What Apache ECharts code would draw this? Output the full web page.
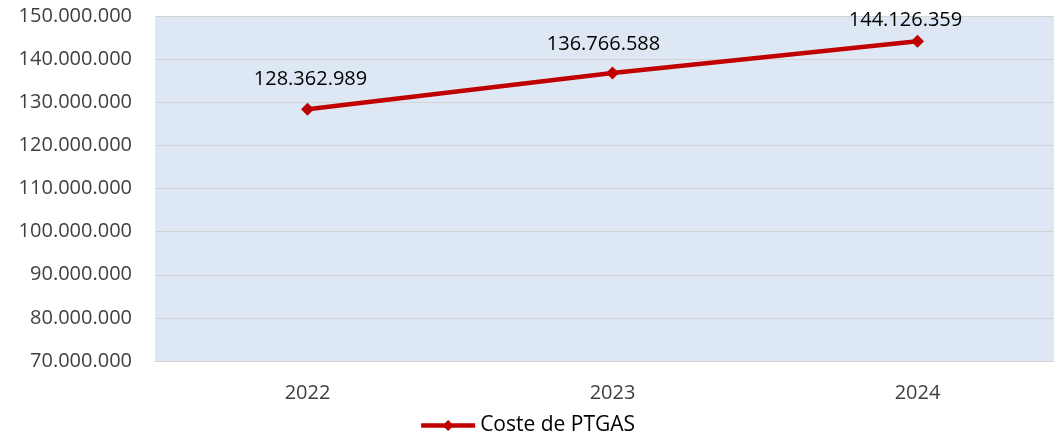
<!DOCTYPE html>
<html>
<head>
<meta charset="utf-8">
<script src="https://cdn.jsdelivr.net/npm/echarts@6/dist/echarts.min.js"></script>
<style>
html, body { margin: 0; padding: 0; background: #fff; }
#main { width: 1054px; height: 436px; }
</style>
</head>
<body>
<div id="main"></div>
<script>
var years = ['2022', '2023', '2024'];
var costeValues = [128362989, 136766588, 144126359];
var seriesName = 'Coste de PTGAS';

var fmt = function (v) {
    return String(Math.round(v)).replace(/\B(?=(\d{3})+(?!\d))/g, '.');
};

// Excel nudges the labels a bit, mimic that
var labelNudge = [[3, 0], [-9, 2], [-12, 9]];
var seriesData = costeValues.map(function (v, i) {
    return { value: v, label: { offset: labelNudge[i] } };
});

var myChart = echarts.init(document.getElementById('main'));
var option = {
    textStyle: { fontFamily: 'Open Sans' },
    grid: {
        left: 155,
        top: 16,
        width: 915,
        height: 345,
        outerBoundsMode: 'none',
        show: true,
        backgroundColor: '#dde8f4',
        borderWidth: 0
    },
    legend: {
        bottom: -5,
        left: 'center',
        itemWidth: 54,
        itemHeight: 14,
        itemGap: 6,
        lineStyle: { width: 4.5 },
        textStyle: { fontSize: 21, color: '#000', fontFamily: 'Open Sans' },
        data: [seriesName]
    },
    xAxis: {
        type: 'category',
        data: years,
        boundaryGap: true,
        axisLine: { show: false },
        axisTick: { show: false },
        axisLabel: { fontSize: 20, color: '#404040', margin: 22 }
    },
    yAxis: {
        type: 'value',
        min: 70000000,
        max: 150000000,
        interval: 10000000,
        axisLine: { show: false },
        axisTick: { show: false },
        axisLabel: {
            fontSize: 20,
            color: '#404040',
            margin: 23,
            formatter: fmt
        },
        splitLine: { lineStyle: { color: '#d3d3d3', width: 1 } }
    },
    series: [{
        name: seriesName,
        type: 'line',
        data: seriesData,
        symbol: 'diamond',
        symbolSize: 13,
        lineStyle: { color: '#c00000', width: 4.5 },
        itemStyle: { color: '#c00000' },
        label: {
            show: true,
            position: 'top',
            distance: 14,
            fontSize: 20,
            color: '#000',
            formatter: function (p) { return fmt(p.value); }
        }
    }]
};
myChart.setOption(option);
</script>
</body>
</html>
